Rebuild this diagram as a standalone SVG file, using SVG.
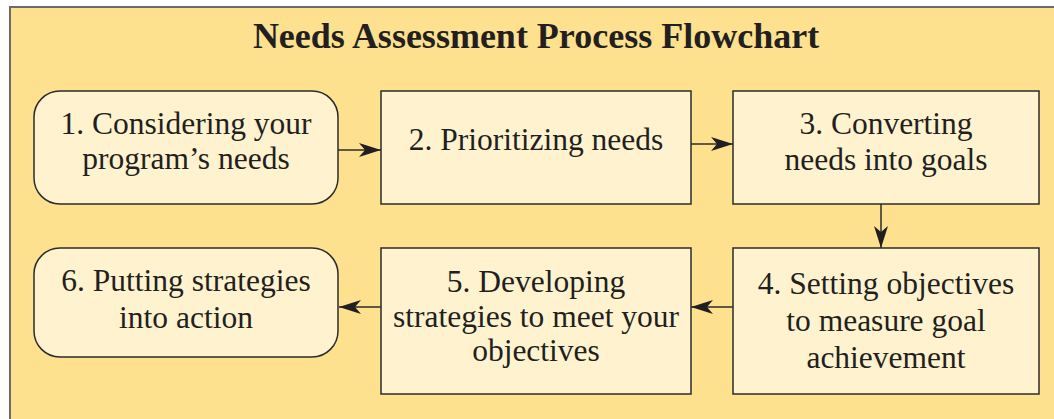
<svg xmlns="http://www.w3.org/2000/svg" width="1054" height="419" viewBox="0 0 1054 419">
<style>
.box{fill:#FFF3CF;stroke:#2b2b2b;stroke-width:1.5}
.t{font-family:"Liberation Serif","Times New Roman",serif;font-size:31.5px;fill:#231f20;text-anchor:middle}
.title{font-family:"Liberation Serif","Times New Roman",serif;font-size:36px;font-weight:bold;fill:#231f20;text-anchor:middle}
.c{stroke:#2b2b2b;stroke-width:1.5;fill:none}
</style>
<defs>
<marker id="ah" markerWidth="22" markerHeight="14" refX="22" refY="7" orient="auto" markerUnits="userSpaceOnUse">
<path d="M0,0 L22,7 L0,14 L6,7 Z" fill="#231f20"/>
</marker>
</defs>
<rect x="0" y="0" width="1054" height="419" fill="#ffffff"/>
<rect x="10" y="7" width="1060" height="430" fill="#FDE18F" stroke="#6b6b6b" stroke-width="2"/>
<text class="title" x="536" y="48">Needs Assessment Process Flowchart</text>
<g id="connectors">
<line class="c" x1="338" y1="150" x2="381" y2="150" marker-end="url(#ah)"/>
<line class="c" x1="691" y1="144" x2="733" y2="144" marker-end="url(#ah)"/>
<line class="c" x1="881" y1="204" x2="881" y2="248" marker-end="url(#ah)"/>
<line class="c" x1="733" y1="307" x2="691" y2="307" marker-end="url(#ah)"/>
<line class="c" x1="381" y1="307" x2="339" y2="307" marker-end="url(#ah)"/>
</g>
<g id="node1">
<rect class="box" x="34" y="91" width="304" height="113" rx="26"/>
<text class="t" x="186" y="134">1. Considering your</text>
<text class="t" x="186" y="169">program’s needs</text>
</g>
<g id="node2">
<rect class="box" x="381" y="91" width="310" height="113"/>
<text class="t" x="536" y="150">2. Prioritizing needs</text>
</g>
<g id="node3">
<rect class="box" x="733" y="91" width="306" height="113"/>
<text class="t" x="886" y="134">3. Converting</text>
<text class="t" x="886" y="170">needs into goals</text>
</g>
<g id="node4">
<rect class="box" x="733" y="248" width="306" height="146"/>
<text class="t" x="886" y="294">4. Setting objectives</text>
<text class="t" x="886" y="331">to measure goal</text>
<text class="t" x="886" y="368">achievement</text>
</g>
<g id="node5">
<rect class="box" x="381" y="248" width="310" height="146"/>
<text class="t" x="536" y="292">5. Developing</text>
<text class="t" x="536" y="327">strategies to meet your</text>
<text class="t" x="536" y="361">objectives</text>
</g>
<g id="node6">
<rect class="box" x="34" y="248" width="304" height="109" rx="26"/>
<text class="t" x="186" y="291">6. Putting strategies</text>
<text class="t" x="186" y="328">into action</text>
</g>
</svg>
